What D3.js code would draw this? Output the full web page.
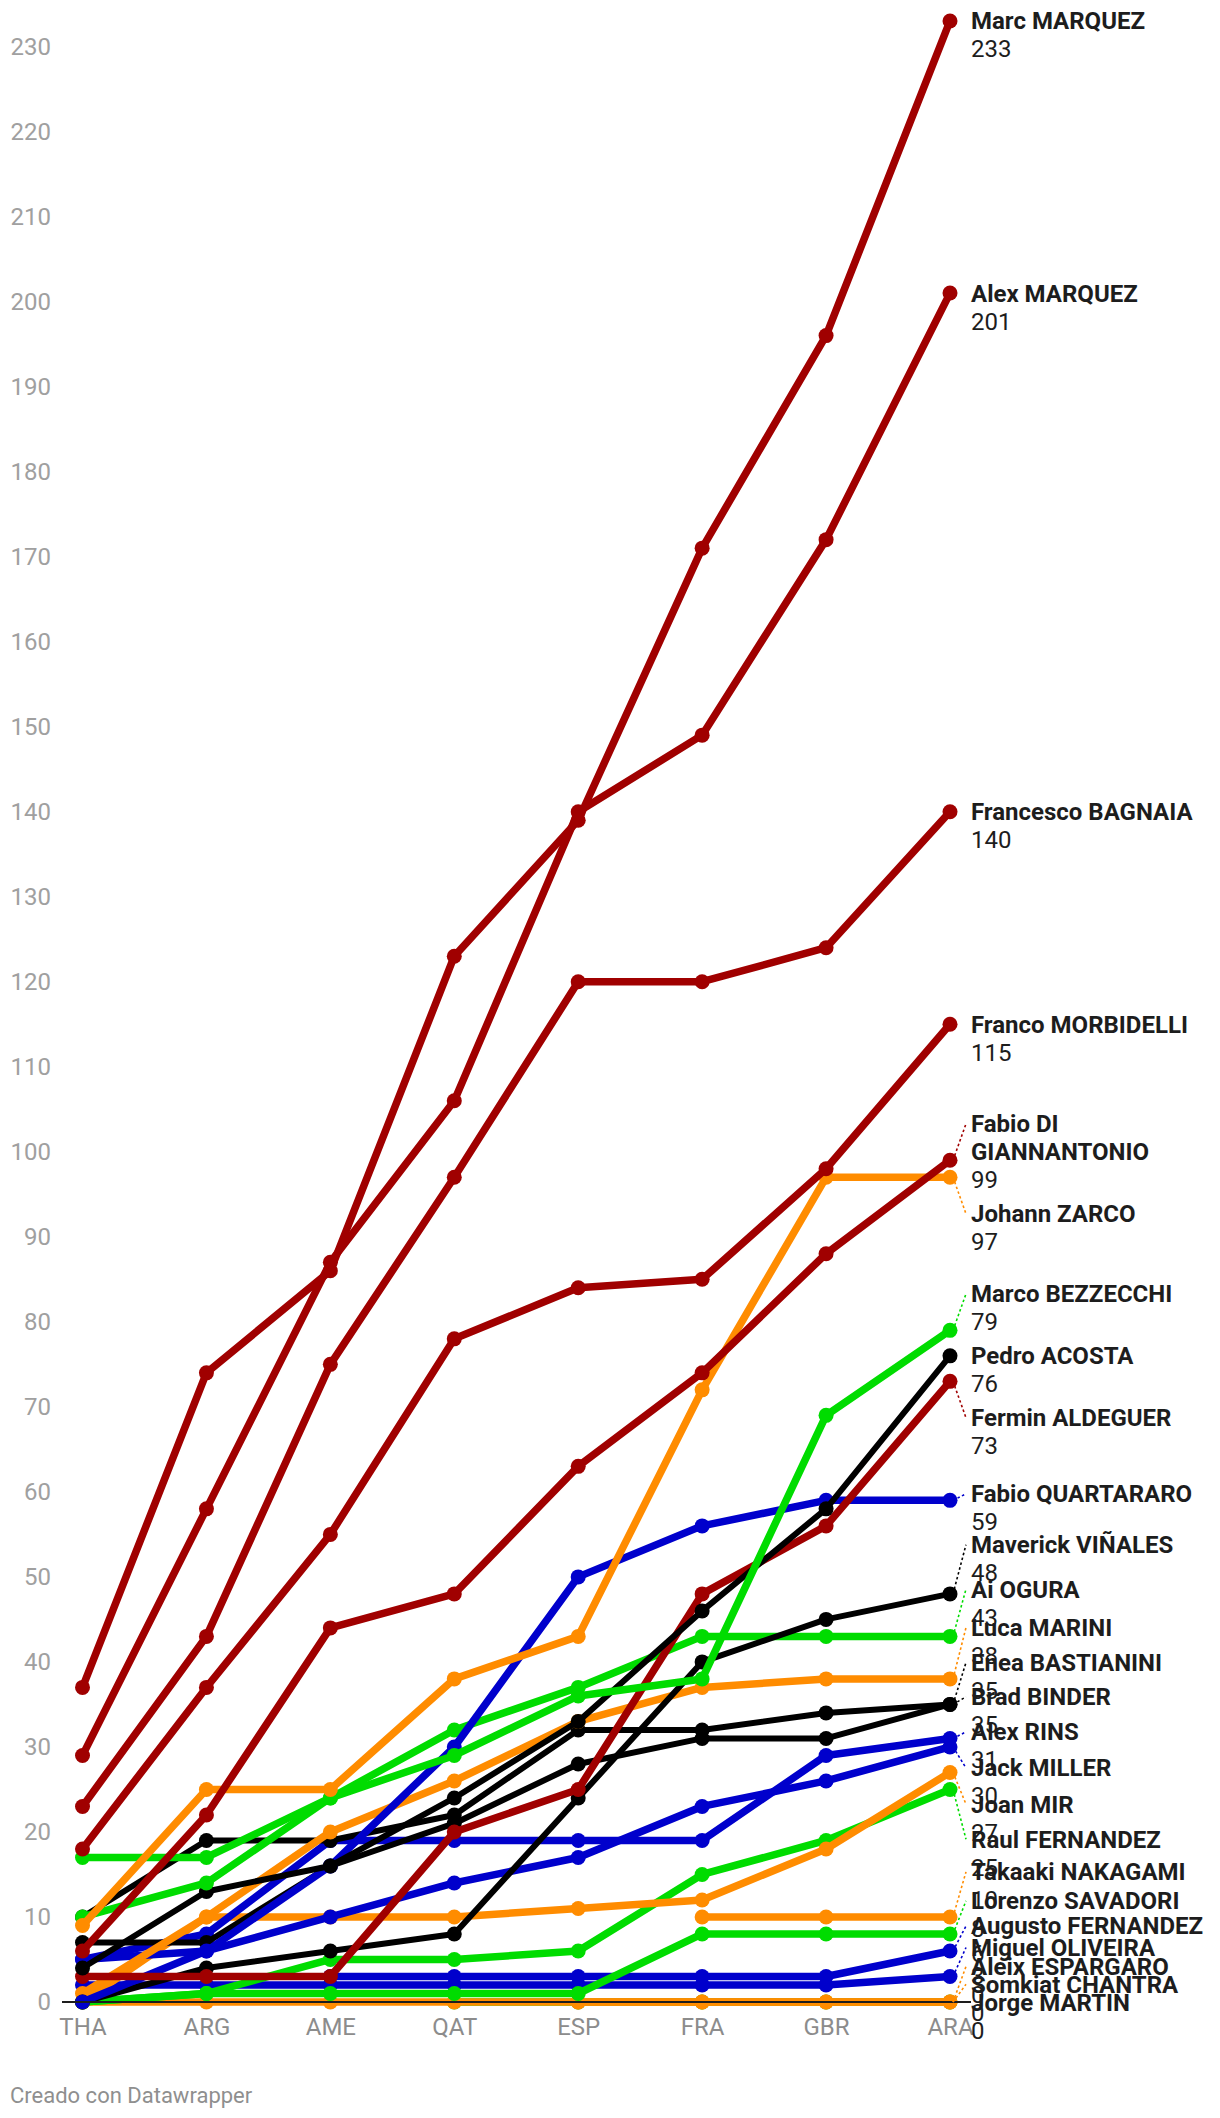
<!DOCTYPE html>
<html>
<head>
<meta charset="utf-8">
<script src="https://cdn.jsdelivr.net/npm/d3@7"></script>
<style>
  body { margin: 0; background: #fff; }
  svg { display: block; font-family: Roboto, "Noto Sans", sans-serif; }
</style>
</head>
<body>
<svg id="chart" width="1220" height="2118"></svg>
<script>
// carreras
var races = ["THA", "ARG", "AME", "QAT", "ESP", "FRA", "GBR", "ARA"];

// puntos acumulados por piloto
var marcMarquez   = [37, 74, 86, 123, 139, 171, 196, 233];
var alexMarquez   = [29, 58, 87, 106, 140, 149, 172, 201];
var bagnaia       = [23, 43, 75, 97, 120, 120, 124, 140];
var morbidelli    = [18, 37, 55, 78, 84, 85, 98, 115];
var diGiannantonio = [6, 22, 44, 48, 63, 74, 88, 99];
var zarco         = [9, 25, 25, 38, 43, 72, 97, 97];
var bezzecchi     = [10, 14, 24, 29, 36, 38, 69, 79];
var acosta        = [4, 13, 16, 24, 33, 46, 58, 76];
var aldeguer      = [3, 3, 3, 20, 25, 48, 56, 73];
var quartararo    = [0, 6, 16, 30, 50, 56, 59, 59];
var vinales       = [0, 4, 6, 8, 24, 40, 45, 48];
var ogura         = [17, 17, 24, 32, 37, 43, 43, 43];
var marini        = [1, 10, 20, 26, 33, 37, 38, 38];
var bastianini    = [7, 7, 16, 21, 28, 31, 31, 35];
var binder        = [10, 19, 19, 22, 32, 32, 34, 35];
var rins          = [5, 8, 19, 19, 19, 19, 29, 31];
var miller        = [5, 6, 10, 14, 17, 23, 26, 30];
var mir           = [0, 10, 10, 10, 11, 12, 18, 27];
var raulFernandez = [0, 1, 5, 5, 6, 15, 19, 25];
var nakagami      = [null, null, null, null, null, 10, 10, 10];
var savadori      = [0, 1, 1, 1, 1, 8, 8, 8];
var augustoFernandez = [null, null, 3, 3, 3, 3, 3, 6];
var oliveira      = [2, 2, 2, 2, 2, 2, 2, 3];
var aleixEspargaro = [null, null, null, null, 0, 0, 0, 0];
var chantra       = [0, 0, 0, 0, 0, 0, 0, 0];
var martin        = [null, null, null, 0, 0, 0, 0, 0];

var riderNames = ["Marc MARQUEZ", "Alex MARQUEZ", "Francesco BAGNAIA", "Franco MORBIDELLI",
  "Fabio DI GIANNANTONIO", "Johann ZARCO", "Marco BEZZECCHI", "Pedro ACOSTA", "Fermin ALDEGUER",
  "Fabio QUARTARARO", "Maverick VIÑALES", "Ai OGURA", "Luca MARINI", "Enea BASTIANINI",
  "Brad BINDER", "Alex RINS", "Jack MILLER", "Joan MIR", "Raul FERNANDEZ", "Takaaki NAKAGAMI",
  "Lorenzo SAVADORI", "Augusto FERNANDEZ", "Miguel OLIVEIRA", "Aleix ESPARGARO",
  "Somkiat CHANTRA", "Jorge MARTIN"];
var riderMakers = ["ducati", "ducati", "ducati", "ducati", "ducati", "honda", "aprilia", "ktm",
  "ducati", "yamaha", "ktm", "aprilia", "honda", "ktm", "ktm", "yamaha", "yamaha", "honda",
  "aprilia", "honda", "aprilia", "yamaha", "yamaha", "honda", "honda", "aprilia"];
var riderPoints = [marcMarquez, alexMarquez, bagnaia, morbidelli, diGiannantonio, zarco,
  bezzecchi, acosta, aldeguer, quartararo, vinales, ogura, marini, bastianini, binder, rins,
  miller, mir, raulFernandez, nakagami, savadori, augustoFernandez, oliveira, aleixEspargaro,
  chantra, martin];
var yTicks = d3.range(0, 240, 10);

// estilos
var makerColor = { ducati: "#a00000", honda: "#ff8c00", aprilia: "#00dc00", ktm: "#000000", yamaha: "#0000cc" };
var fontSize = 24;

var svg = d3.select("#chart");
var x = d3.scalePoint().domain(races).range([82.5, 950]);
var y = d3.scaleLinear().domain([0, 230]).range([2002, 46.5]);

// eje y
var yAxis = svg.append("g")
  .attr("transform", "translate(51,0)")
  .call(d3.axisLeft(y).tickValues(yTicks).tickSize(0).tickPadding(0));
yAxis.select(".domain").remove();
yAxis.selectAll("text")
  .attr("font-size", fontSize).attr("font-family", "Roboto").attr("fill", "#a0a0a0");

// eje x
var xAxis = svg.append("g")
  .attr("transform", "translate(0,2018)")
  .call(d3.axisBottom(x).tickSize(0).tickPadding(0));
xAxis.select(".domain").remove();
xAxis.selectAll("text")
  .attr("font-size", fontSize).attr("font-family", "Roboto").attr("fill", "#8c8c8c");

// orden de dibujo: los de mas puntos encima
var order = d3.range(riderNames.length).sort(function(a, b) {
  return riderPoints[a][7] - riderPoints[b][7] || b - a;
});

var line = d3.line()
  .defined(function(d) { return d != null; })
  .x(function(d, i) { return x(races[i]); })
  .y(function(d) { return y(d); });

var series = svg.append("g").selectAll("g")
  .data(order)
  .enter().append("g");

series.append("path")
  .attr("fill", "none")
  .attr("stroke", function(i) { return makerColor[riderMakers[i]]; })
  .attr("stroke-width", function(i) { return riderMakers[i] == "ktm" ? 6 : 7.5; })
  .attr("stroke-linejoin", "round")
  .attr("stroke-linecap", "round")
  .attr("d", function(i) { return line(riderPoints[i]); });

series.selectAll("circle")
  .data(function(i) {
    return riderPoints[i].map(function(v, k) { return { v: v, k: k, i: i }; })
      .filter(function(d) { return d.v != null; });
  })
  .enter().append("circle")
  .attr("cx", function(d) { return x(races[d.k]); })
  .attr("cy", function(d) { return y(d.v); })
  .attr("r", 7.5)
  .attr("fill", function(d) { return makerColor[riderMakers[d.i]]; });

// linea base
svg.append("line")
  .attr("x1", 62).attr("x2", 971)
  .attr("y1", y(0)).attr("y2", y(0))
  .attr("stroke", "#1d1d1d").attr("stroke-width", 2);

// etiquetas a la derecha
var labelX = 971, lineH = 28, maxW = 245;
var labels = d3.range(riderNames.length).map(function(i) {
  var pts = riderPoints[i];
  return { i: i, name: riderNames[i], value: pts[7], py: y(pts[7]), ly: y(pts[7]), lines: [riderNames[i]] };
});

var measure = svg.append("text")
  .attr("font-size", fontSize).attr("font-weight", 700).attr("font-family", "Roboto");
labels.forEach(function(l) {
  var words = l.name.split(" "), cur = "", out = [];
  words.forEach(function(w) {
    var test = cur ? cur + " " + w : w;
    measure.text(test);
    if (cur && measure.node().getComputedTextLength() > maxW) { out.push(cur); cur = w; }
    else cur = test;
  });
  out.push(cur);
  l.lines = out;
  l.h = (out.length + 1) * lineH + 6;
});
measure.remove();

// separar etiquetas solapadas
labels.sort(function(a, b) { return a.py - b.py || a.i - b.i; });
for (var it = 0; it < 6; it++) {
  for (var k = 0; k < labels.length - 1; k++) {
    var a = labels[k], b = labels[k + 1];
    var gap = b.ly - a.ly;
    if (gap < a.h) {
      var d = (a.h - gap) / 2;
      a.ly -= d; b.ly += d;
    }
  }
  labels.forEach(function(l) { l.ly = Math.max(20, Math.min(2002, l.ly)); });
}

var lg = svg.append("g");
labels.forEach(function(l) {
  var col = makerColor[riderMakers[l.i]];
  if (Math.abs(l.ly - l.py) > 4) {
    lg.append("line")
      .attr("x1", 953).attr("y1", l.py)
      .attr("x2", 966).attr("y2", l.ly)
      .attr("stroke", col).attr("stroke-width", 1.6)
      .attr("stroke-dasharray", "2.5,2.5");
  }
  var t = lg.append("text")
    .attr("x", labelX)
    .attr("font-size", fontSize)
    .attr("fill", "#1d1d1d");
  l.lines.forEach(function(s, j) {
    t.append("tspan").attr("x", labelX).attr("y", l.ly + 8.5 + j * lineH)
      .attr("font-weight", 700).text(s);
  });
  t.append("tspan").attr("x", labelX).attr("y", l.ly + 8.5 + l.lines.length * lineH)
    .attr("font-weight", 400).text(l.value);
});

// pie
svg.append("text")
  .attr("x", 10).attr("y", 2103)
  .attr("font-size", 22).attr("fill", "#8f8f8f")
  .text("Creado con Datawrapper");
</script>
</body>
</html>
